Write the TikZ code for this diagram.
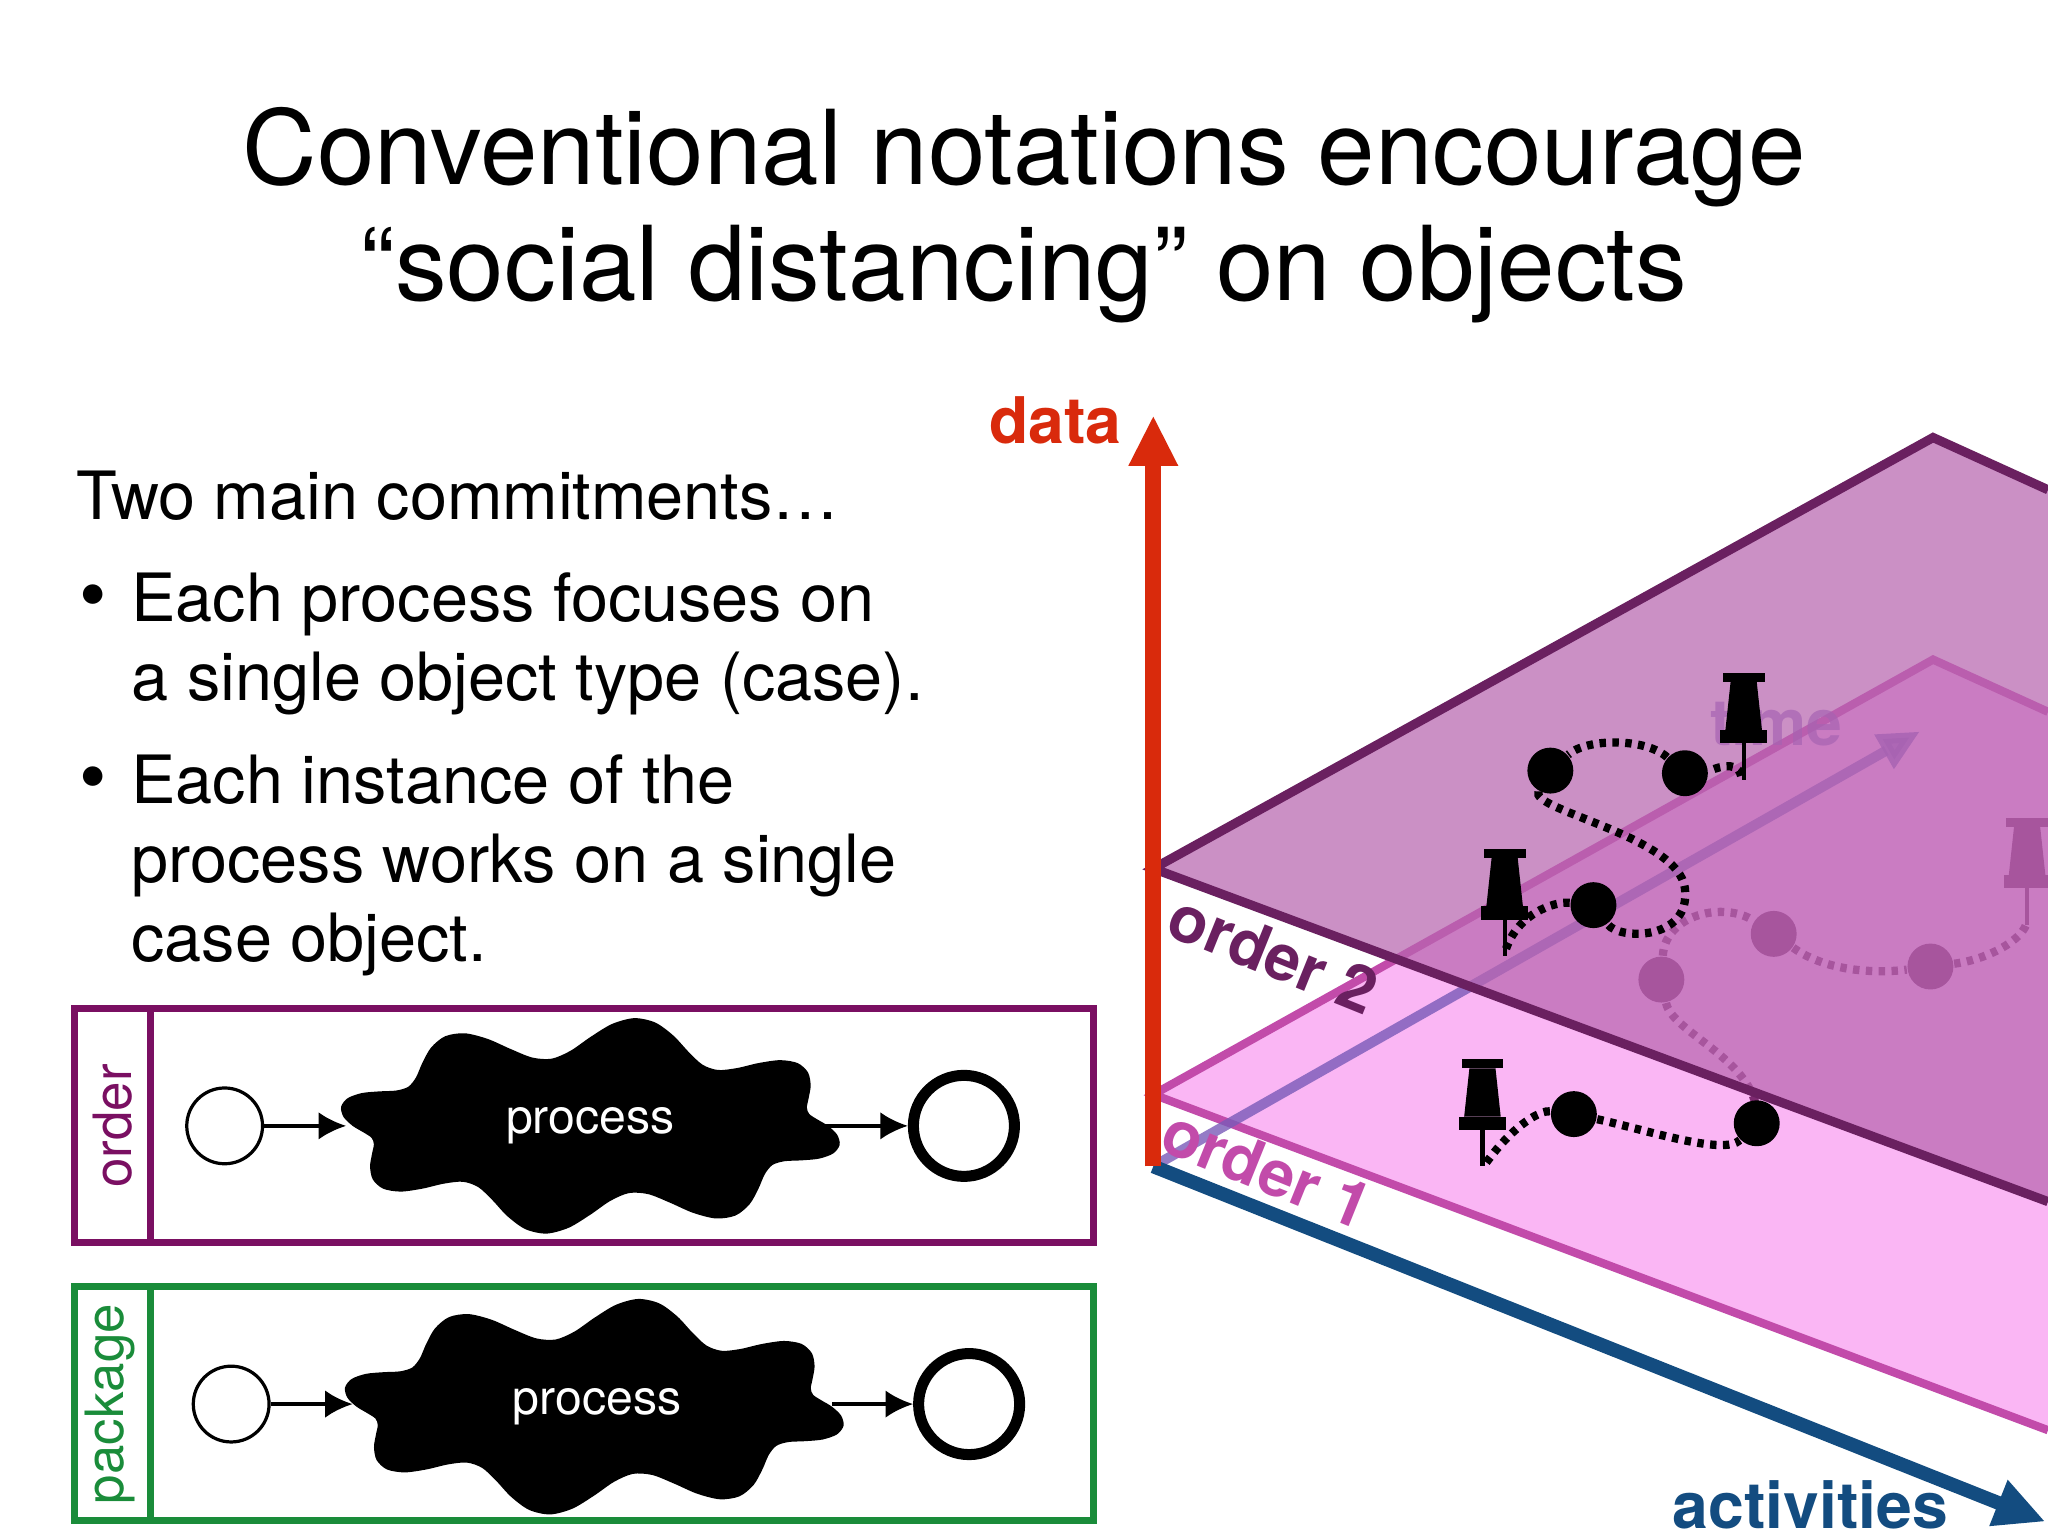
\documentclass[tikz,border=0pt]{standalone}
\usepackage{fontspec}
\setmainfont{TeX Gyre Heros}
\usetikzlibrary{arrows.meta}
\definecolor{ordc}{HTML}{7A0F62}
\definecolor{pkgc}{HTML}{1A8C3A}
\definecolor{pl1}{HTML}{FAB6F4}
\definecolor{pl1b}{HTML}{C24BAA}
\definecolor{pl2}{HTML}{B866B0}
\definecolor{pl2b}{HTML}{6A2060}
\definecolor{redax}{HTML}{D92A0C}
\definecolor{blueax}{HTML}{134C80}
\definecolor{timec}{HTML}{7A5AB8}
\tikzset{
  lane/.style={line width=1.5pt},
  startc/.style={circle,draw,line width=0.7pt,minimum size=16.5pt,inner sep=0pt},
  endc/.style={circle,draw,line width=2.4pt,minimum size=22pt,inner sep=0pt},
  flow/.style={-{Latex[length=6pt,width=6pt]},line width=0.8pt},
  dot/.style={circle,fill=black,minimum size=10pt,inner sep=0pt},
  pdot/.style={circle,fill=pl2b!80!pl1b,minimum size=10pt,inner sep=0pt},
  trail/.style={dash pattern=on 1.4pt off 1.4pt,line width=1.8pt},
  pin/.pic={
    \fill (-16,-62) rectangle (16,-55);
    \fill (-10,-55) -- (10,-55) -- (14,-18) -- (-14,-18) -- cycle;
    \fill (-18,-18) rectangle (18,-8);
    \draw[line width=0.9pt] (0,-8) -- (0,20);
  },
  blob/.pic={
    \fill plot[smooth cycle,samples=72,domain=0:355] ({(182+12*sin(8*\x))*cos(\x)}, {(68+16*sin(8*\x))*sin(\x)});
  }
}
\begin{document}
\begin{tikzpicture}[x=0.01cm,y=-0.01cm]
\useasboundingbox[fill=white] (0,0) rectangle (1568,1176);
% title
\node (t1) at (784,120) {\fontsize{22.5}{26}\selectfont Conventional notations encourage};
\node (t2) at (784,210) {\fontsize{22.5}{26}\selectfont “social distancing” on objects};
% text
\node[anchor=base west,inner sep=0pt] (tx) at (58,398) {\fontsize{14.5}{17}\selectfont Two main commitments…};
\node[anchor=base west,inner sep=0pt] (b1) at (60,476) {\fontsize{17}{17}\selectfont •};
\node[anchor=base west,inner sep=0pt] (x1) at (100,476) {\fontsize{14.5}{17.5}\selectfont Each process focuses on};
\node[anchor=base west,inner sep=0pt] (x2) at (100,536) {\fontsize{14.5}{17}\selectfont a single object type (case).};
\node[anchor=base west,inner sep=0pt] (b2) at (60,615) {\fontsize{17}{17}\selectfont •};
\node[anchor=base west,inner sep=0pt] (x3) at (100,615) {\fontsize{14.5}{17}\selectfont Each instance of the};
\node[anchor=base west,inner sep=0pt] (x4) at (100,676) {\fontsize{14.5}{17}\selectfont process works on a single};
\node[anchor=base west,inner sep=0pt] (x5) at (100,736) {\fontsize{14.5}{17}\selectfont case object.};
% order lane
\draw[lane,ordc] (57,772) rectangle (837,951);
\draw[lane,ordc] (115,772) -- (115,951);
\node[rotate=90,text=ordc] (ol) at (86,862) {\fontsize{11.5}{13}\selectfont order};
\node[startc] (s1) at (172,862) {};
\pic at (452,862) {blob};
\node[text=white] (p1) at (452,862) {\fontsize{10.5}{12}\selectfont process};
\coordinate (p1l) at (265,862); \coordinate (p1r) at (632,862);
\node[endc] (e1) at (738,862) {};
\draw[flow] (s1) -- (p1l);
\draw[flow] (p1r) -- (e1);
% package lane
\draw[lane,pkgc] (57,985) rectangle (837,1164);
\draw[lane,pkgc] (115,985) -- (115,1164);
\node[rotate=90,text=pkgc] (pl) at (84,1075) {\fontsize{11.5}{13}\selectfont package};
\node[startc] (s2) at (177,1075) {};
\pic at (455,1077) {blob};
\node[text=white] (p2) at (457,1077) {\fontsize{10.5}{12}\selectfont process};
\coordinate (p2l) at (270,1075); \coordinate (p2r) at (637,1075);
\node[endc] (e2) at (742,1075) {};
\draw[flow] (s2) -- (p2l);
\draw[flow] (p2r) -- (e2);
% plane 1
\fill[pl1] (883,838) -- (1480,505) -- (1568,545) -- (1568,1095) -- cycle;
\draw[pl1b,line width=1.8pt] (1568,545) -- (1480,505) -- (883,838) -- (1568,1095);
% time axis
\draw[timec,opacity=0.8,line width=2.2pt,-{Triangle[length=9pt,width=8pt]}] (883,893) -- (1470,560);
\node[text=timec,opacity=0.7] (tm) at (1360,553) {\fontsize{14}{16}\selectfont\bfseries time};
% items on plane 1 (tinted)
\node[pdot] (q1) at (1358,715) {};
\node[pdot] (q2) at (1478,740) {};
\node[pdot] (q3) at (1272,750) {};
\pic[pl2b!80!pl1b] at (1552,688) {pin};
\coordinate (qp) at (1552,705);
\draw[trail,pl2b!80!pl1b] (q3) .. controls (1275,700) and (1320,690) .. (q1);
\draw[trail,pl2b!80!pl1b] (q1) .. controls (1400,745) and (1440,745) .. (q2);
\draw[trail,pl2b!80!pl1b] (q2) .. controls (1520,735) and (1550,720) .. (qp);
\draw[trail,pl2b!80!pl1b] (q3) .. controls (1280,790) and (1340,810) .. (1345,850);
% plane 2
\fill[pl2,opacity=0.72] (883,665) -- (1480,335) -- (1568,375) -- (1568,920) -- cycle;
\draw[pl2b,line width=2pt] (1568,375) -- (1480,335) -- (883,665) -- (1568,920);
\node[rotate=-22,text=pl2b] (o2) at (975,730) {\fontsize{14}{16}\selectfont\bfseries order 2};
\node[rotate=-22,text=pl1b] (o1) at (970,895) {\fontsize{14}{16}\selectfont\bfseries order 1};
% items on plane 2
\node[dot] (d1) at (1187,590) {};
\node[dot] (d2) at (1290,592) {};
\node[dot] (d3) at (1220,693) {};
\pic at (1335,577) {pin};
\coordinate (pa) at (1333,594);
\pic at (1152,712) {pin};
\coordinate (pb) at (1152,730);
\draw[trail] (pa) .. controls (1330,580) and (1310,590) .. (d2);
\draw[trail] (d2) .. controls (1260,565) and (1215,565) .. (d1);
\draw[trail] (d1) .. controls (1170,620) and (1285,640) .. (1290,680) .. controls (1295,720) and (1240,720) .. (d3);
\draw[trail] (d3) .. controls (1190,690) and (1160,700) .. (pb);
% items on plane 1 front
\node[dot] (f1) at (1205,853) {};
\node[dot] (f2) at (1345,860) {};
\pic at (1135,873) {pin};
\coordinate (pc) at (1138,890);
\draw[trail] (pc) .. controls (1160,860) and (1180,850) .. (f1);
\draw[trail] (f1) .. controls (1260,865) and (1320,885) .. (f2);
% axes
\draw[blueax,line width=3pt,-{Triangle[length=11pt,width=10pt]}] (883,893) -- (1566,1165);
\node[text=blueax,inner sep=0pt] (ac) at (1386,1152) {\fontsize{14}{16}\selectfont\bfseries activities};
\draw[redax,line width=3.5pt,-{Triangle[length=11pt,width=10pt]}] (883,893) -- (883,318);
\node[text=redax] (da) at (808,322) {\fontsize{14}{16}\selectfont\bfseries data};
\end{tikzpicture}
\end{document}
